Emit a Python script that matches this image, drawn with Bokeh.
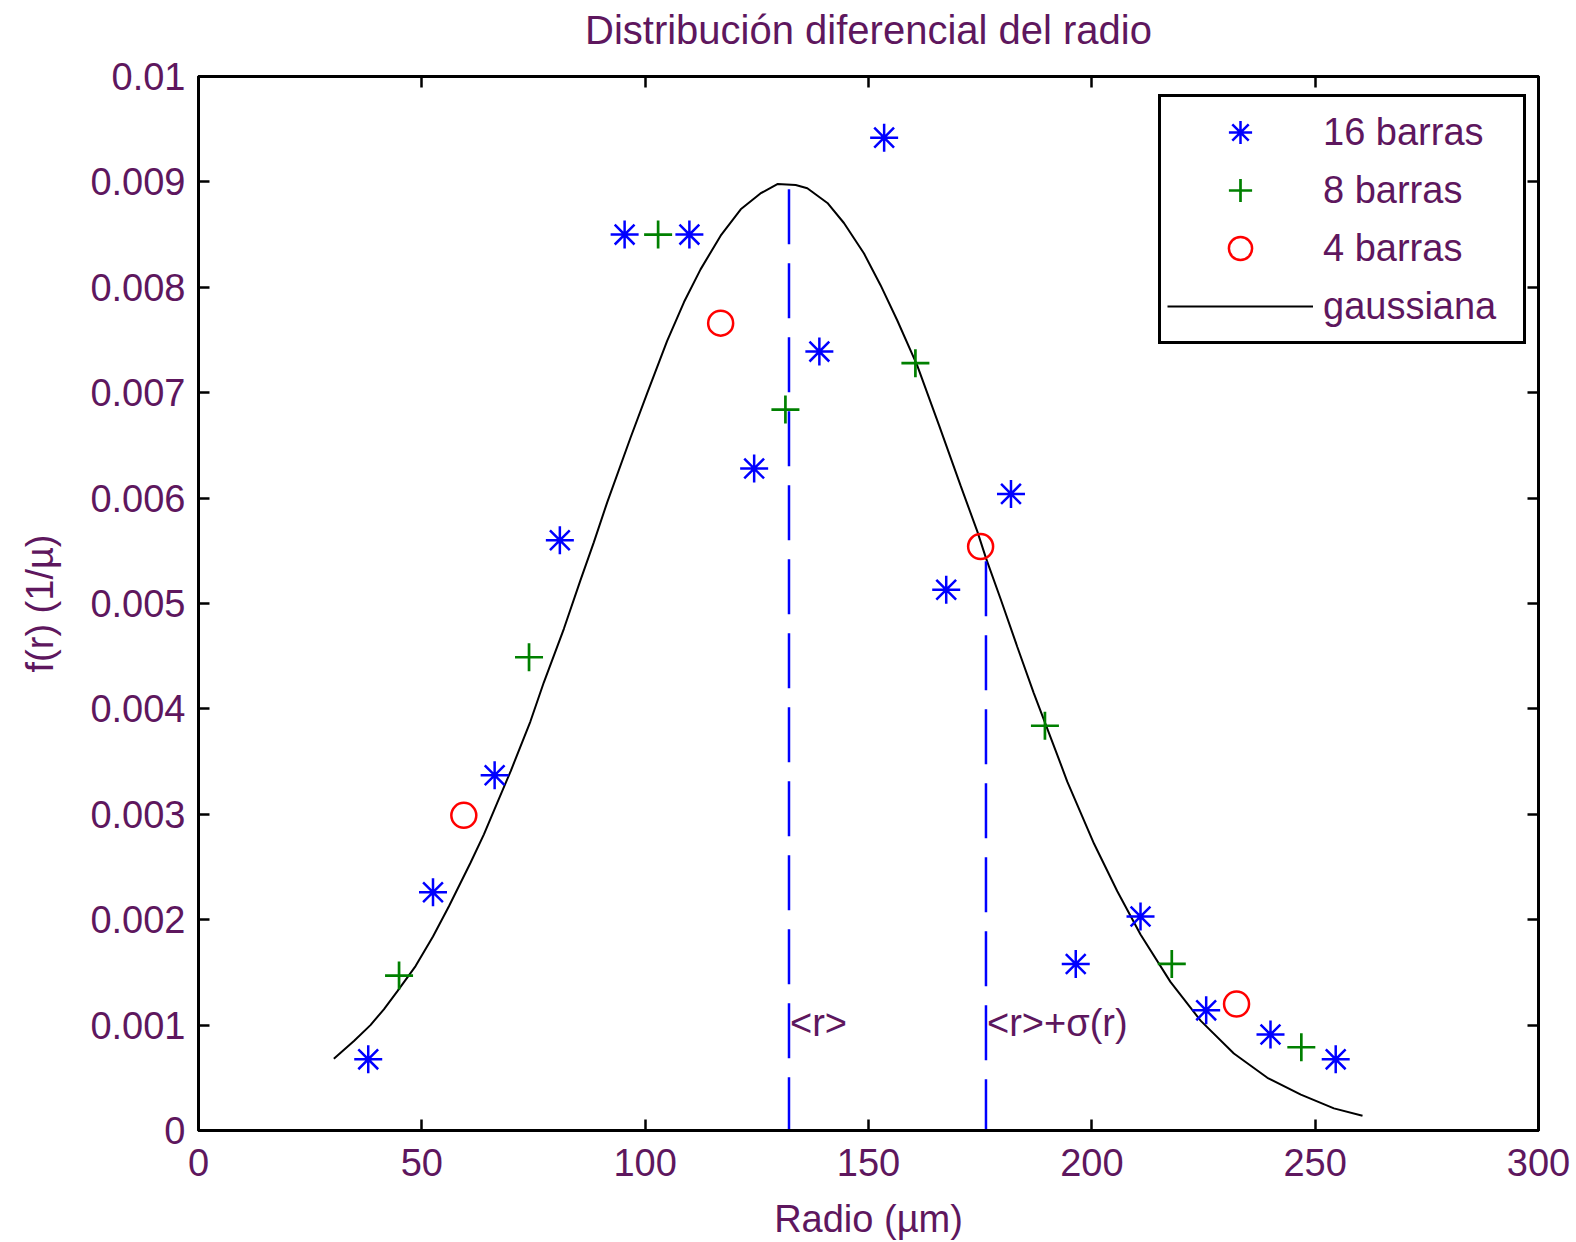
from bokeh.plotting import figure
from bokeh.models import Range1d, FixedTicker, LinearAxis, Legend, LegendItem, Label
from bokeh.embed import file_html
from bokeh.resources import INLINE

# ---------------- data ----------------
r16 = [38.0, 52.5, 66.3, 80.9, 95.4, 109.9, 124.4, 139.0, 153.5, 167.4, 181.9, 196.4, 210.9, 225.6, 240.0, 254.6]
f16 = [0.000675, 0.00226, 0.00337, 0.00560, 0.00850, 0.00850, 0.00628, 0.00739, 0.00942, 0.00513,
       0.00604, 0.00158, 0.00203, 0.00114, 0.00091, 0.000675]

r8 = [44.9, 74.0, 102.9, 131.4, 160.5, 189.5, 217.9, 246.9]
f8 = [0.00147, 0.00449, 0.00850, 0.00684, 0.00728, 0.00384, 0.00158, 0.00079]

r4 = [59.4, 116.9, 175.1, 232.4]
f4 = [0.00299, 0.00766, 0.00554, 0.00120]

r_gauss = [30.3, 34.8, 38.5, 41.5, 44.5, 48.6, 52.5, 56.1, 60.9, 63.9, 66.9, 69.9, 74.3, 77.3, 81.8,
           85.5, 88.5, 91.5, 96.7, 100.5, 104.9, 108.7, 112.4, 116.9, 121.4, 125.8, 129.6, 133.7, 136.3,
           140.8, 144.5, 149.0, 152.7, 156.4, 160.9, 165.8, 170.6, 174.4, 176.3, 179.6, 183.3, 187.0,
           192.3, 194.5, 200.5, 205.7, 210.9, 217.6, 224.4, 231.8, 239.3, 246.8, 254.2, 260.6]
f_gauss = [0.00068, 0.00085, 0.00100, 0.00115, 0.00132, 0.00156, 0.00184, 0.00213, 0.00254, 0.00281,
           0.00311, 0.00341, 0.00388, 0.00425, 0.00476, 0.00522, 0.00558, 0.00596, 0.00657, 0.00700,
           0.00749, 0.00786, 0.00817, 0.00849, 0.00874, 0.00889, 0.00898, 0.00897, 0.00894, 0.00880,
           0.00861, 0.00832, 0.00802, 0.00769, 0.00726, 0.00669, 0.00612, 0.00568, 0.00543, 0.00504,
           0.00459, 0.00415, 0.00356, 0.00331, 0.00272, 0.00227, 0.00186, 0.00141, 0.00104, 0.00073,
           0.00050, 0.00034, 0.00021, 0.00014]

r_mean = 132.2          # <r>
f_at_mean = 0.00893
r_mean_sigma = 176.3    # <r> + sigma(r)
f_at_mean_sigma = 0.00540
annot_y = 0.00102

x_ticks = [0, 50, 100, 150, 200, 250, 300]
y_ticks = [0, 0.001, 0.002, 0.003, 0.004, 0.005, 0.006, 0.007, 0.008, 0.009, 0.01]
y_tick_labels = ["0", "0.001", "0.002", "0.003", "0.004", "0.005", "0.006", "0.007", "0.008", "0.009", "0.01"]

title_text = "Distribución diferencial del radio"
x_label = "Radio (µm)"
y_label = "f(r) (1/µ)"
legend_labels = ["16 barras", "8 barras", "4 barras", "gaussiana"]

# ---------------- style ----------------
FONT = "Liberation Sans"
TXT = "#5e175e"

p = figure(width=1576, height=1242, output_backend="svg", toolbar_location=None,
           x_range=Range1d(0, 300), y_range=Range1d(0, 0.01),
           min_border_left=198, min_border_right=38, min_border_top=76, min_border_bottom=112)

p.grid.visible = False
p.outline_line_color = "black"
p.outline_line_width = 3
p.background_fill_color = "white"
p.border_fill_color = "white"

for ax in (p.xaxis[0], p.yaxis[0]):
    ax.major_tick_in = 11
    ax.major_tick_out = 0
    ax.minor_tick_line_color = None
    ax.major_tick_line_width = 2.5
    ax.axis_line_width = 3
    ax.major_label_text_font = FONT
    ax.major_label_text_font_size = "38px"
    ax.major_label_text_color = TXT
    ax.axis_label_text_font = FONT
    ax.axis_label_text_font_size = "38px"
    ax.axis_label_text_font_style = "normal"
    ax.axis_label_text_color = TXT

p.xaxis[0].ticker = FixedTicker(ticks=x_ticks)
p.xaxis[0].axis_label = x_label
p.xaxis[0].major_label_standoff = 18
p.xaxis[0].axis_label_standoff = 19

p.yaxis[0].ticker = FixedTicker(ticks=y_ticks)
p.yaxis[0].major_label_overrides = {t: s for t, s in zip(y_ticks, y_tick_labels)}
p.yaxis[0].axis_label = y_label
p.yaxis[0].major_label_standoff = 13
p.yaxis[0].axis_label_standoff = 26

# mirrored ticks on the right (no labels drawn)
ax_r = LinearAxis(ticker=FixedTicker(ticks=y_ticks), major_label_text_color=None,
                  major_label_text_font_size="1px",
                  major_tick_in=11, major_tick_out=0, major_tick_line_width=2.5,
                  minor_tick_line_color=None, axis_line_width=3, major_label_standoff=0)
p.add_layout(ax_r, "right")

# mirrored ticks on top; its axis label carries the chart title
ax_t = LinearAxis(ticker=FixedTicker(ticks=x_ticks), major_label_text_color=None,
                  major_label_text_font_size="1px",
                  major_tick_in=11, major_tick_out=0, major_tick_line_width=2.5,
                  minor_tick_line_color=None, axis_line_width=3, major_label_standoff=0,
                  axis_label=title_text, axis_label_standoff=25,
                  axis_label_text_font=FONT, axis_label_text_font_size="40px",
                  axis_label_text_font_style="normal", axis_label_text_color=TXT)
p.add_layout(ax_t, "above")

# gaussian curve
g = p.line(r_gauss, f_gauss, line_color="black", line_width=2)

# dashed vertical lines
p.line([r_mean, r_mean], [f_at_mean, 0], line_color="#0000ff", line_width=2.5, line_dash="55 19")
p.line([r_mean_sigma, r_mean_sigma], [f_at_mean_sigma, 0], line_color="#0000ff", line_width=2.5,
       line_dash="55 19")

# markers
a = p.scatter(r16, f16, marker="asterisk", size=28, line_color="#0000ff", line_width=2.5)
c = p.scatter(r8, f8, marker="cross", size=28, line_color="#008000", line_width=2.7)
o = p.scatter(r4, f4, marker="circle", size=25, line_color="#ff0000", fill_color=None, line_width=2.5)

# annotations
for xv, txt in ((r_mean, "<r>"), (r_mean_sigma, "<r>+σ(r)")):
    p.add_layout(Label(x=xv, y=annot_y, text=txt, text_baseline="middle", text_align="left",
                       x_offset=1, text_font=FONT, text_font_size="38px", text_color=TXT))

legend = Legend(items=[LegendItem(label=legend_labels[0], renderers=[a]),
                       LegendItem(label=legend_labels[1], renderers=[c]),
                       LegendItem(label=legend_labels[2], renderers=[o]),
                       LegendItem(label=legend_labels[3], renderers=[g])],
                location=(960, 786), padding=6, spacing=0, label_height=58, glyph_height=58,
                glyph_width=146, label_standoff=10, label_width=194, margin=0,
                label_text_font=FONT, label_text_font_size="38px", label_text_color=TXT,
                border_line_color="black", border_line_width=3, border_line_alpha=1,
                background_fill_color="white", background_fill_alpha=1)
p.add_layout(legend, "center")

open("out.html", "w").write(file_html(p, INLINE))
